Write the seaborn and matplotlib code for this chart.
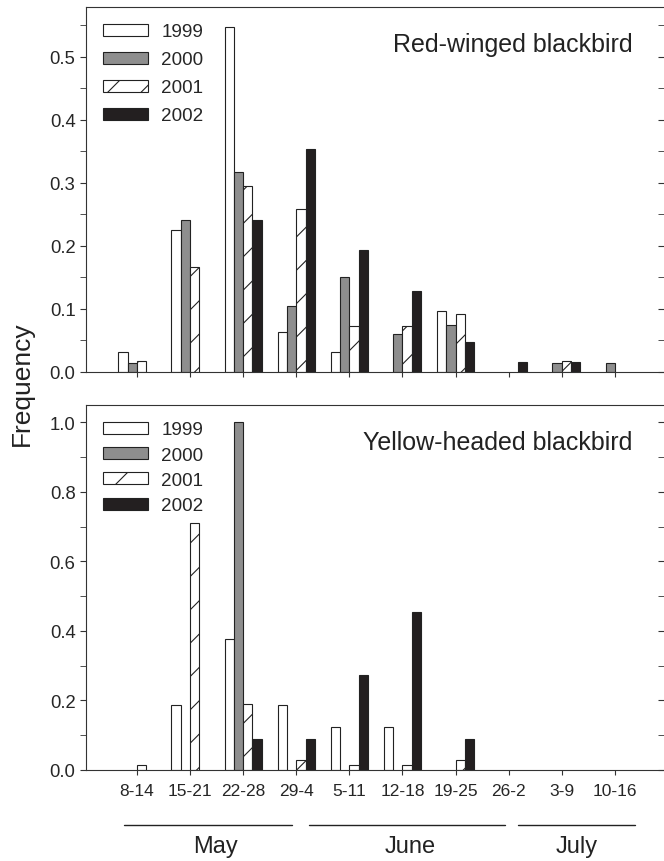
import numpy as np
import pandas as pd
import matplotlib.pyplot as plt
from matplotlib.patches import Patch
from matplotlib.ticker import MultipleLocator
import seaborn as sns

# Week categories (x axis)
weeks = ['8-14', '15-21', '22-28', '29-4', '5-11', '12-18', '19-25', '26-2', '3-9', '10-16']
years = ['1999', '2000', '2001', '2002']

# Red-winged blackbird frequencies (None = no bar)
rwbb_1999 = [0.032, 0.225, 0.548, 0.063, 0.032, None, 0.096, None, None, None]
rwbb_2000 = [0.015, 0.241, 0.317, 0.105, 0.151, 0.060, 0.075, None, 0.015, 0.015]
rwbb_2001 = [0.018, 0.166, 0.295, 0.258, 0.073, 0.073, 0.092, None, 0.018, None]
rwbb_2002 = [None, None, 0.241, 0.353, 0.193, 0.129, 0.048, 0.016, 0.016, None]

# Yellow-headed blackbird frequencies
yhbb_1999 = [None, 0.187, 0.376, 0.187, 0.125, 0.125, None, None, None, None]
yhbb_2000 = [None, None, 1.0, None, None, None, None, None, None, None]
yhbb_2001 = [0.014, 0.71, 0.189, 0.029, 0.014, 0.014, 0.029, None, None, None]
yhbb_2002 = [None, None, 0.09, 0.09, 0.273, 0.455, 0.09, None, None, None]

# Month groupings under the x axis
months = ['May', 'June', 'July']
month_spans = [(-0.25, 2.92), (3.24, 6.93), (7.17, 9.38)]
month_label_x = [1.47, 5.14, 8.29]

colors = {'1999': 'white', '2000': '#8e8e8e', '2001': 'white', '2002': '#231f20'}
hatches = {'1999': '', '2000': '', '2001': '/', '2002': ''}
edge = '#222222'


def make_long(series):
    rows = []
    for yr, vals in zip(years, series):
        for wk, v in zip(weeks, vals):
            if v is not None:
                rows.append({'week': wk, 'year': yr, 'freq': v})
    return pd.DataFrame(rows)


sns.set_style('ticks')
plt.rcParams['font.family'] = ['Liberation Sans', 'DejaVu Sans']
plt.rcParams['hatch.linewidth'] = 0.8
plt.rcParams['axes.edgecolor'] = '#333333'

fig = plt.figure(figsize=(6.64, 8.62), dpi=100)
ax1 = fig.add_axes([0.1295, 0.5673, 0.8705, 0.4234])
ax2 = fig.add_axes([0.1295, 0.1056, 0.8705, 0.4234])


def draw_panel(ax, df, title, ymax, major, minor, lspace):
    sns.barplot(data=df, x='week', y='freq', hue='year', order=weeks, hue_order=years,
                palette=colors, saturation=1, width=0.7, gap=0, edgecolor=edge,
                linewidth=0.8, legend=False, ax=ax)
    for yr, cont in zip(years, ax.containers):
        for bar in cont:
            bar.set_hatch(hatches[yr])
    ax.set_xlim(-0.96, 9.925)
    ax.set_ylim(0, ymax)
    ax.yaxis.set_major_locator(MultipleLocator(major))
    ax.yaxis.set_minor_locator(MultipleLocator(minor))
    ax.yaxis.set_major_formatter(plt.FormatStrFormatter('%.1f'))
    ax.set_xlabel('')
    ax.set_ylabel('')
    ax.spines['right'].set_visible(False)
    ax.tick_params(axis='y', which='both', left=True, right=True, labelsize=13.3,
                   color='#333333', pad=3)
    ax.tick_params(axis='y', which='major', length=4.5)
    ax.tick_params(axis='y', which='minor', length=4)
    ax.tick_params(axis='x', length=3.5, labelsize=12.5, color='#333333', pad=6)
    ax.text(0.945, 0.899, title, transform=ax.transAxes, ha='right', va='center',
            fontsize=18, color='#222222')
    handles = [Patch(facecolor=colors[y], edgecolor=edge, hatch=hatches[y], linewidth=0.8)
               for y in years]
    ax.legend(handles, years, loc='upper left', bbox_to_anchor=(0.029, 0.955),
              frameon=False, fontsize=13.6, borderpad=0, borderaxespad=0,
              handlelength=2.4, handleheight=0.6, handletextpad=0.7,
              labelspacing=lspace)


draw_panel(ax1, make_long([rwbb_1999, rwbb_2000, rwbb_2001, rwbb_2002]),
           'Red-winged blackbird', 0.579, 0.1, 0.05, 0.58)
draw_panel(ax2, make_long([yhbb_1999, yhbb_2000, yhbb_2001, yhbb_2002]),
           'Yellow-headed blackbird', 1.05, 0.2, 0.1, 0.44)

# right-side ticks point inwards
for ax in (ax1, ax2):
    for t in ax.yaxis.get_major_ticks() + ax.yaxis.get_minor_ticks():
        t.tick2line.set_marker(0)

ax1.tick_params(axis='x', labelbottom=False)

# month lines and labels
trans = ax2.get_xaxis_transform()
for name, (x0, x1), xc in zip(months, month_spans, month_label_x):
    ax2.plot([x0, x1], [-0.151, -0.151], color='#222222', lw=1.0,
             transform=trans, clip_on=False)
    ax2.text(xc, -0.208, name, transform=trans, ha='center', va='center',
             fontsize=17, color='#222222')

fig.text(0.033, 0.555, 'Frequency', rotation=90, ha='center', va='center',
         fontsize=19, color='#222222')

fig.savefig('out.png', dpi=100)
